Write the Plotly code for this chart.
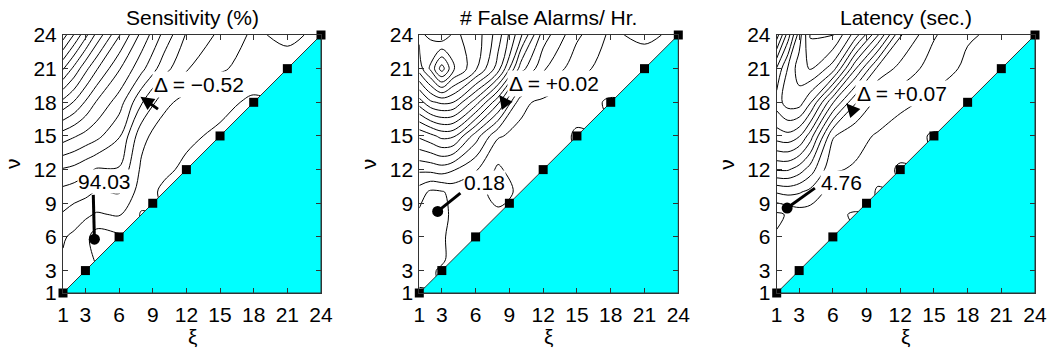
import plotly.graph_objects as go

# ---------------- data ----------------
XI = [1, 2, 3, 4, 6, 8, 10, 12, 15, 18, 21, 24]          # grid columns (xi)
NU = [24, 21, 18, 15, 12, 10, 8, 6, 4, 3, 2, 1]           # grid rows (nu), top to bottom

sensitivity = [
    [77.0, 78.6, 80.2, 81.8, 84.4, 86.8, 88.8, 90.6, 91.7, 92.7, 92.2, 92.8],
    [80.4, 81.8, 83.2, 84.4, 86.4, 88.2, 90.1, 91.4, 92.4, 92.8, 93.1, 93.1],
    [83.8, 84.6, 85.6, 86.6, 88.0, 90.4, 92.2, 92.9, 93.2, 93.7, 93.3, 93.3],
    [87.0, 87.4, 87.8, 88.2, 89.4, 92.2, 93.1, 93.3, 93.7, 93.4, 93.4, 93.4],
    [89.6, 89.8, 90.2, 90.6, 90.6, 92.7, 93.3, 93.7, 93.4, 93.4, 93.4, 93.4],
    [90.8, 91.0, 91.2, 91.6, 91.4, 93.0, 93.7, 93.4, 93.4, 93.4, 93.4, 93.4],
    [91.6, 92.0, 92.3, 92.6, 92.4, 93.6, 93.4, 93.4, 93.4, 93.4, 93.4, 93.4],
    [92.4, 92.7, 93.2, 94.0, 93.7, 93.4, 93.4, 93.4, 93.4, 93.4, 93.4, 93.4],
    [92.6, 93.0, 93.2, 93.6, 93.4, 93.4, 93.4, 93.4, 93.4, 93.4, 93.4, 93.4],
    [92.8, 93.1, 93.4, 93.4, 93.4, 93.4, 93.4, 93.4, 93.4, 93.4, 93.4, 93.4],
    [93.0, 93.3, 93.4, 93.4, 93.4, 93.4, 93.4, 93.4, 93.4, 93.4, 93.4, 93.4],
    [93.2, 93.3, 93.4, 93.4, 93.4, 93.4, 93.4, 93.4, 93.4, 93.4, 93.4, 93.4],
]

false_alarms = [
    [1.62, 1.58, 1.52, 1.62, 1.56, 1.35, 1.02, 0.65, 0.42, 0.28, 0.33, 0.27],
    [1.55, 1.72, 1.95, 1.72, 1.52, 1.25, 0.75, 0.52, 0.33, 0.26, 0.22, 0.23],
    [1.15, 1.28, 1.32, 1.30, 1.05, 0.72, 0.33, 0.27, 0.23, 0.19, 0.21, 0.21],
    [0.72, 0.77, 0.83, 0.82, 0.55, 0.31, 0.27, 0.25, 0.19, 0.21, 0.21, 0.21],
    [0.42, 0.43, 0.45, 0.41, 0.31, 0.18, 0.27, 0.21, 0.21, 0.21, 0.21, 0.21],
    [0.25, 0.18, 0.19, 0.23, 0.22, 0.18, 0.21, 0.21, 0.21, 0.21, 0.21, 0.21],
    [0.18, 0.17, 0.17, 0.22, 0.21, 0.21, 0.21, 0.21, 0.21, 0.21, 0.21, 0.21],
    [0.18, 0.18, 0.19, 0.22, 0.21, 0.21, 0.21, 0.21, 0.21, 0.21, 0.21, 0.21],
    [0.18, 0.18, 0.19, 0.22, 0.21, 0.21, 0.21, 0.21, 0.21, 0.21, 0.21, 0.21],
    [0.19, 0.19, 0.21, 0.21, 0.21, 0.21, 0.21, 0.21, 0.21, 0.21, 0.21, 0.21],
    [0.19, 0.19, 0.21, 0.21, 0.21, 0.21, 0.21, 0.21, 0.21, 0.21, 0.21, 0.21],
    [0.21, 0.21, 0.21, 0.21, 0.21, 0.21, 0.21, 0.21, 0.21, 0.21, 0.21, 0.21],
]

latency = [
    [5.80, 6.40, 7.00, 7.52, 7.52, 7.00, 6.32, 5.52, 5.12, 4.92, 4.86, 4.82],
    [6.52, 6.92, 7.20, 7.32, 7.00, 6.12, 5.44, 5.24, 5.00, 4.86, 4.78, 4.72],
    [6.80, 7.00, 7.00, 6.72, 5.92, 5.32, 5.04, 4.96, 4.84, 4.76, 4.72, 4.72],
    [6.40, 6.44, 6.32, 6.00, 5.12, 4.96, 4.88, 4.78, 4.68, 4.72, 4.72, 4.72],
    [5.72, 5.72, 5.60, 5.40, 4.92, 4.88, 4.76, 4.68, 4.72, 4.72, 4.72, 4.72],
    [5.12, 5.16, 5.12, 5.04, 4.80, 4.84, 4.68, 4.72, 4.72, 4.72, 4.72, 4.72],
    [4.66, 4.72, 4.80, 4.80, 4.74, 4.68, 4.72, 4.72, 4.72, 4.72, 4.72, 4.72],
    [4.72, 4.74, 4.76, 4.76, 4.72, 4.72, 4.72, 4.72, 4.72, 4.72, 4.72, 4.72],
    [4.74, 4.76, 4.78, 4.74, 4.72, 4.72, 4.72, 4.72, 4.72, 4.72, 4.72, 4.72],
    [4.76, 4.76, 4.72, 4.72, 4.72, 4.72, 4.72, 4.72, 4.72, 4.72, 4.72, 4.72],
    [4.74, 4.74, 4.72, 4.72, 4.72, 4.72, 4.72, 4.72, 4.72, 4.72, 4.72, 4.72],
    [4.74, 4.72, 4.72, 4.72, 4.72, 4.72, 4.72, 4.72, 4.72, 4.72, 4.72, 4.72],
]

contour_levels = [(77.5, 93.5, 1.0), (0.2, 1.9, 0.1), (4.7, 7.7, 0.2)]

tick_vals = [1, 3, 6, 9, 12, 15, 18, 21, 24]
diag_points = [1, 3, 6, 9, 12, 15, 18, 21, 24]
panel_titles = ["Sensitivity (%)", "# False Alarms/ Hr.", "Latency (sec.)"]

opt_xi = [3.8, 2.63, 1.93]        # location of optimum
opt_nu = [5.8, 8.27, 8.57]
opt_text = ["94.03", "0.18", "4.76"]
delta_text = ["\u0394 = \u22120.52", "\u0394 = +0.02", "\u0394 = +0.07"]

# ---------------- layout helpers ----------------
W, H = 1051, 352
x_dom = [(63 / W, 321 / W), (419.3 / W, 678.3 / W), (776.7 / W, 1035 / W)]
y_dom = (59 / H, 317 / H)

# label/pointer placement (layout)
opt_label_pos = [(4.7, 10.95), (6.75, 10.87), (6.8, 10.87)]
opt_line_start = [(3.7, 9.75), (4.65, 9.9), (4.4, 10.35)]
delta_pos = [(13.1, 19.55), (13.0, 19.7), (12.2, 18.8)]
arrow_tail = [(9.6, 17.3), (8.8, 17.7), (8.0, 17.0)]
arrow_head = [(7.9, 18.5), (8.1, 18.65), (7.2, 17.9)]

FONT = "Liberation Sans, Arial, Helvetica, sans-serif"

fig = go.Figure()
grids = [sensitivity, false_alarms, latency]
annotations = []

for i in range(3):
    xa = "x" if i == 0 else f"x{i+1}"
    ya = "y" if i == 0 else f"y{i+1}"
    s, e, sz = contour_levels[i]
    fig.add_trace(go.Contour(
        x=XI, y=NU, z=grids[i], xaxis=xa, yaxis=ya,
        contours=dict(start=s, end=e, size=sz, coloring="none"),
        line=dict(color="black", width=1, smoothing=1.0),
        showscale=False, hoverinfo="skip",
    ))
    # lower-right triangle
    fig.add_trace(go.Scatter(
        x=[1, 24, 24, 1], y=[1, 24, 1, 1], xaxis=xa, yaxis=ya,
        mode="lines", fill="toself", fillcolor="#00FFFF",
        line=dict(color="#333333", width=1), hoverinfo="skip",
    ))
    # diagonal squares
    fig.add_trace(go.Scatter(
        x=diag_points, y=diag_points, xaxis=xa, yaxis=ya, mode="markers",
        marker=dict(symbol="square", size=9, color="black"),
        cliponaxis=False, hoverinfo="skip",
    ))
    # pointer line + dot
    lx, ly = opt_line_start[i]
    fig.add_trace(go.Scatter(
        x=[lx, opt_xi[i]], y=[ly, opt_nu[i]], xaxis=xa, yaxis=ya,
        mode="lines", line=dict(color="black", width=3), hoverinfo="skip",
    ))
    fig.add_trace(go.Scatter(
        x=[opt_xi[i]], y=[opt_nu[i]], xaxis=xa, yaxis=ya, mode="markers",
        marker=dict(symbol="circle", size=11, color="black"), hoverinfo="skip",
    ))
    # labels
    tx, ty = opt_label_pos[i]
    annotations.append(dict(x=tx, y=ty, xref=xa, yref=ya, text=opt_text[i],
                            showarrow=False, font=dict(family=FONT, size=21, color="black"),
                            bgcolor="white", borderpad=0))
    dx, dy = delta_pos[i]
    annotations.append(dict(x=dx, y=dy, xref=xa, yref=ya, text=delta_text[i],
                            showarrow=False, font=dict(family=FONT, size=21, color="black"),
                            bgcolor="white", borderpad=1))
    hx, hy = arrow_head[i]
    ax_, ay_ = arrow_tail[i]
    annotations.append(dict(x=hx, y=hy, ax=ax_, ay=ay_, xref=xa, yref=ya,
                            axref=xa, ayref=ya, text="", showarrow=True,
                            arrowhead=2, arrowsize=0.9, arrowwidth=3, arrowcolor="black"))
    # titles
    xc = (x_dom[i][0] + x_dom[i][1]) / 2
    annotations.append(dict(x=xc, y=1 - 17 / H, xref="paper", yref="paper",
                            text=panel_titles[i], showarrow=False,
                            font=dict(family=FONT, size=21, color="black"),
                            xanchor="center", yanchor="middle"))
    annotations.append(dict(x=xc, y=1 - 336 / H, xref="paper", yref="paper",
                            text="\u03be", showarrow=False,
                            font=dict(family=FONT, size=21, color="black"),
                            xanchor="center", yanchor="middle"))
    annotations.append(dict(x=x_dom[i][0] - 50 / W, y=1 - 164 / H, xref="paper", yref="paper",
                            text="\u03bd", showarrow=False, textangle=-90,
                            font=dict(family=FONT, size=21, color="black"),
                            xanchor="center", yanchor="middle"))

axis_common = dict(
    range=[1, 24], tickvals=tick_vals, ticktext=[str(t) for t in tick_vals],
    ticks="inside", ticklen=5, tickwidth=1, tickcolor="#333333",
    showline=True, linecolor="#333333", linewidth=1, mirror="allticks",
    showgrid=False, zeroline=False, fixedrange=True, automargin=False,
    tickfont=dict(family=FONT, size=21, color="black"),
)

layout = dict(width=W, height=H, margin=dict(l=0, r=0, t=0, b=0, autoexpand=False),
              paper_bgcolor="white", plot_bgcolor="white", showlegend=False,
              annotations=annotations)
for i in range(3):
    xk = "xaxis" if i == 0 else f"xaxis{i+1}"
    yk = "yaxis" if i == 0 else f"yaxis{i+1}"
    ya = "y" if i == 0 else f"y{i+1}"
    xa = "x" if i == 0 else f"x{i+1}"
    layout[xk] = dict(axis_common, domain=list(x_dom[i]), anchor=ya, ticklabelstandoff=3)
    layout[yk] = dict(axis_common, domain=list(y_dom), anchor=xa, ticklabelstandoff=1)

fig.update_layout(**layout)
fig.write_html("out.html")
